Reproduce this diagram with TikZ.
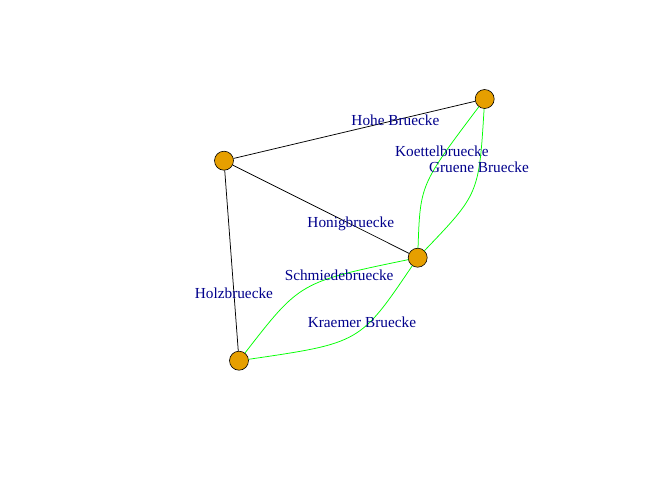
\documentclass[tikz,border=0pt]{standalone}
\usepackage{fontspec}
\setmainfont{Liberation Serif}
\usepackage{xcolor}
\definecolor{landfill}{HTML}{E69F00}
\definecolor{labelblue}{HTML}{00008B}
\definecolor{gruen}{HTML}{00FF00}
\tikzset{
  land/.style = {circle, draw=black, fill=landfill, minimum size=19pt,
    inner sep=0pt, line width=0.6pt},
  brname/.style = {text=labelblue, inner sep=0pt,
    font=\fontsize{15.3}{18}\selectfont},
  weg/.style = {draw=black, line width=0.75pt},
  gweg/.style = {draw=gruen, line width=0.75pt}
}

\begin{document}
\begin{tikzpicture}[x=1pt, y=-1pt]
\useasboundingbox (0,0) rectangle (672,480);
% land masses
\node [land] (links) at (224,160.7) {};
\node [land] (oben) at (484.7,99) {};
\node [land] (rechts) at (417.7,257.7) {};
\node [land] (unten) at (239,360.7) {};
% straight bridges
\path [weg] (links) -- node [brname, pos=0.67] {Hohe Bruecke} (oben);
\path [weg] (links) -- node [brname, pos=0.67] {Honigbruecke} (rechts);
\path [weg] (links) -- node [brname, pos=0.68] {Holzbruecke} (unten);
% curved bridges
\path [gweg] (rechts) .. controls (420.2,184.5) .. node [brname, pos=0.76, xshift=-4pt] {Koettelbruecke} (oben);
\path [gweg] (rechts) .. controls (478.9,193.9) .. node [brname, pos=0.69] {Gruene Bruecke} (oben);
\path [gweg] (unten) .. controls (300,282) .. node [brname, pos=0.72] {Schmiedebruecke} (rechts);
\path [gweg] (unten) .. controls (360,343) .. node [brname, pos=0.58, yshift=7pt] {Kraemer Bruecke} (rechts);
\end{tikzpicture}
\end{document}
